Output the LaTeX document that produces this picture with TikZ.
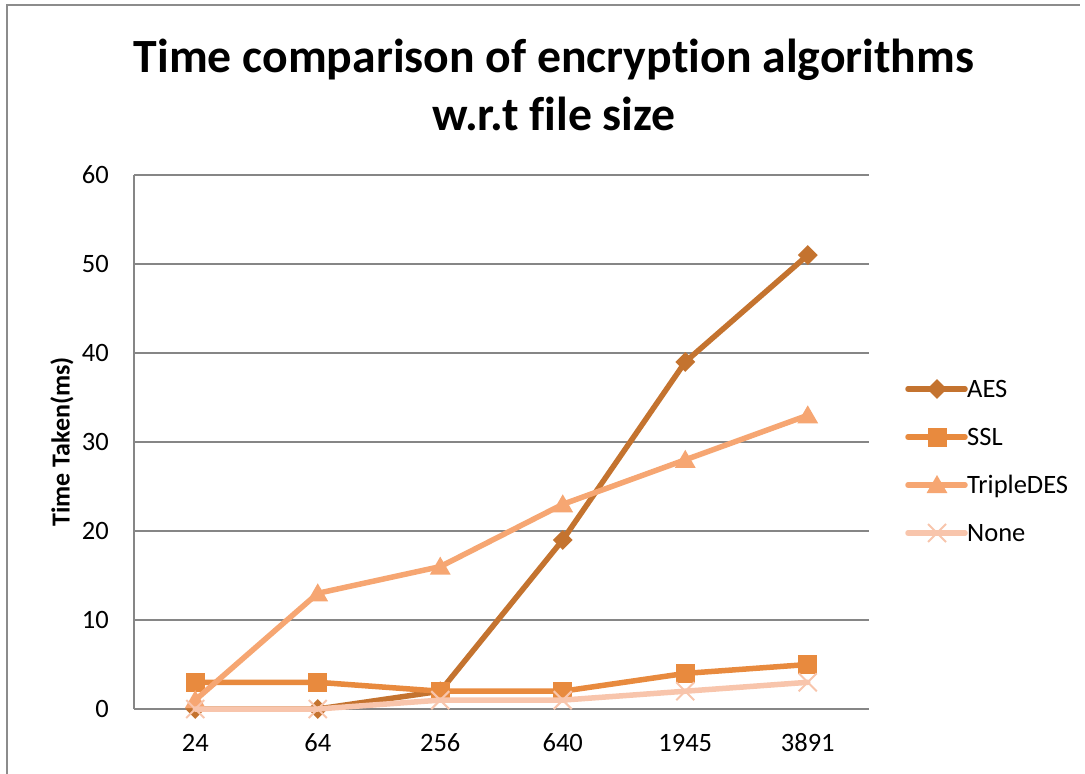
\documentclass[tikz,border=0pt]{standalone}
\usepackage{fontspec}
\setmainfont[RawFeature=-liga, RawFeature=-clig, RawFeature=-calt]{Carlito}
\usetikzlibrary{shapes.geometric}
\definecolor{aescol}{HTML}{C4732F}
\definecolor{sslcol}{HTML}{E88A3E}
\definecolor{descol}{HTML}{F6A672}
\definecolor{nonecol}{HTML}{F8C5AC}
\definecolor{gridgray}{HTML}{868686}
\definecolor{framegray}{HTML}{8C8C8C}
\begin{document}
\begin{tikzpicture}[x=1pt,y=-1pt,
  gridline/.style={draw=gridgray, line width=2pt},
  series/.style={line width=5.5pt, line join=round, line cap=round},
  sqmark/.style={rectangle, fill=#1, minimum size=19pt, inner sep=0pt},
  dmmark/.style={rectangle, rotate=45, fill=#1, minimum size=14pt, inner sep=0pt},
  trmark/.style={regular polygon, regular polygon sides=3, fill=#1, minimum size=24pt, inner sep=0pt},
  xmark/.style={draw=nonecol, line width=2pt},
  ticklbl/.style={font=\fontsize{26.5}{30}\selectfont, text=black, inner sep=0pt},
  legtext/.style={font=\fontsize{26.5}{30}\selectfont, text=black, inner sep=0pt, anchor=base west},
  axtitle/.style={font=\fontsize{26}{30}\selectfont\bfseries, text=black, inner sep=0pt},
  charttitle/.style={font=\fontsize{47.7}{56}\selectfont\bfseries, text=black, inner sep=0pt, anchor=base},
]
\useasboundingbox (0,0) rectangle (1085,774);
\fill[white] (0,0) rectangle (1085,774);

% chart frame
\draw[framegray, line width=1.5pt] (7,774) -- (7,5) -- (1080,5);

% title
\node[charttitle] (title1) at (554,72) {Time comparison of encryp\kern0pt tion algorithms};
\node[charttitle] (title2) at (554,130) {w.r.t f\kern0pt ile size};

% horizontal gridlines and value labels
\foreach \v in {0,10,...,60} {
  \draw[gridline] (134,{709-8.9*\v}) -- (869,{709-8.9*\v});
  \node[ticklbl, anchor=base east] (ylab\v) at (109,{709-8.9*\v+8.4}) {\v};
}
\coordinate (axbot) at (134,709);
\coordinate (axtop) at (134,175);
\draw[gridline] (axbot) -- (axtop);

% category labels
\foreach \lbl [count=\i from 0] in {24,64,256,640,1945,3891}
  \node[ticklbl, anchor=base] (xlab\i) at ({195.25+122.5*\i},751.5) {\lbl};

% axis title
\node[axtitle, rotate=90] (ytitle) at (62,442) {Time Taken(ms)};

% data points
\foreach \v [count=\i from 0] in {0,0,2,19,39,51}
  \coordinate (aes\i) at ({195.25+122.5*\i},{709-8.9*\v});
\foreach \v [count=\i from 0] in {3,3,2,2,4,5}
  \coordinate (ssl\i) at ({195.25+122.5*\i},{709-8.9*\v});
\foreach \v [count=\i from 0] in {1,13,16,23,28,33}
  \coordinate (des\i) at ({195.25+122.5*\i},{709-8.9*\v});
\foreach \v [count=\i from 0] in {0,0,1,1,2,3}
  \coordinate (non\i) at ({195.25+122.5*\i},{709-8.9*\v});

% AES
\draw[series, aescol] (aes0) -- (aes1) -- (aes2) -- (aes3) -- (aes4) -- (aes5);
\foreach \i in {0,...,5} \node[dmmark=aescol] (aesm\i) at (aes\i) {};
% SSL
\draw[series, sslcol] (ssl0) -- (ssl1) -- (ssl2) -- (ssl3) -- (ssl4) -- (ssl5);
\foreach \i in {0,...,5} \node[sqmark=sslcol] (sslm\i) at (ssl\i) {};
% TripleDES
\draw[series, descol] (des0) -- (des1) -- (des2) -- (des3) -- (des4) -- (des5);
\foreach \i in {0,...,5} \node[trmark=descol, yshift=-2pt] (desm\i) at (des\i) {};
% None
\draw[series, nonecol] (non0) -- (non1) -- (non2) -- (non3) -- (non4) -- (non5);
\foreach \i in {0,...,5} {
  \draw[xmark] ([shift={(-9pt,-9pt)}]non\i) -- ([shift={(9pt,9pt)}]non\i);
  \draw[xmark] ([shift={(-9pt,9pt)}]non\i) -- ([shift={(9pt,-9pt)}]non\i);
}

% legend
\foreach \nm/\col/\yy in {A/aescol/389, B/sslcol/437, C/descol/485, D/nonecol/533} {
  \coordinate (leg\nm l) at (908,\yy);
  \coordinate (leg\nm r) at (965,\yy);
  \coordinate (leg\nm c) at (937,\yy);
  \draw[series, \col] (leg\nm l) -- (leg\nm r);
}
\node[dmmark=aescol] (legAm) at (legAc) {};
\node[sqmark=sslcol] (legBm) at (legBc) {};
\node[trmark=descol, yshift=-2pt] (legCm) at (legCc) {};
\draw[xmark] ([shift={(-9pt,-9pt)}]legDc) -- ([shift={(9pt,9pt)}]legDc);
\draw[xmark] ([shift={(-9pt,9pt)}]legDc) -- ([shift={(9pt,-9pt)}]legDc);
\node[legtext] (legAt) at (967,397.5) {AES};
\node[legtext] (legBt) at (967,445.5) {SSL};
\node[legtext] (legCt) at (967,493.5) {TripleDES};
\node[legtext] (legDt) at (967,541.5) {None};
\end{tikzpicture}
\end{document}
